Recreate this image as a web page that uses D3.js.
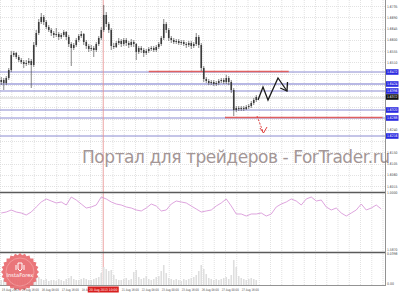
<!DOCTYPE html>
<html lang="en">
  <head>
    <meta charset="utf-8" />
    <title>Chart</title>
    <script src="https://d3js.org/d3.v7.min.js"></script>
    <style>
      body { margin: 0; background: #fff; }
      svg { display: block; }
      text { font-family: "DejaVu Sans", sans-serif; }
    </style>
  </head>
  <body>
    <div id="chart"></div>
    <script>
      // bars: [high, low, close]; open = previous close
      const firstOpen = 1.6432;
      const bars = [
        [1.6452,1.6420,1.6440],[1.6448,1.6400,1.6428],[1.6456,1.6420,1.6448],[1.6488,1.6440,1.6480],
        [1.6556,1.6472,1.6540],[1.6556,1.6532,1.6548],[1.6552,1.6524,1.6532],[1.6540,1.6512,1.6520],
        [1.6528,1.6504,1.6512],[1.6520,1.6488,1.6504],[1.6520,1.6496,1.6508],[1.6528,1.6500,1.6516],
        [1.6524,1.6408,1.6500],[1.6592,1.6492,1.6580],[1.6640,1.6572,1.6628],[1.6684,1.6620,1.6672],
        [1.6708,1.6664,1.6692],[1.6700,1.6660,1.6672],[1.6680,1.6644,1.6652],[1.6660,1.6632,1.6640],
        [1.6648,1.6616,1.6628],[1.6636,1.6608,1.6620],[1.6648,1.6612,1.6624],[1.6632,1.6600,1.6612],
        [1.6628,1.6604,1.6620],[1.6640,1.6612,1.6632],[1.6636,1.6600,1.6612],[1.6620,1.6572,1.6584],
        [1.6592,1.6496,1.6568],[1.6588,1.6560,1.6580],[1.6608,1.6572,1.6600],[1.6624,1.6592,1.6616],
        [1.6636,1.6608,1.6624],[1.6628,1.6580,1.6592],[1.6600,1.6564,1.6576],[1.6584,1.6552,1.6564],
        [1.6580,1.6556,1.6568],[1.6576,1.6532,1.6560],[1.6592,1.6552,1.6584],[1.6616,1.6576,1.6608],
        [1.6652,1.6600,1.6640],[1.6740,1.6632,1.6700],[1.6712,1.6652,1.6664],[1.6672,1.6628,1.6640],
        [1.6648,1.6560,1.6576],[1.6588,1.6564,1.6572],[1.6596,1.6568,1.6588],[1.6608,1.6580,1.6596],
        [1.6604,1.6572,1.6584],[1.6608,1.6576,1.6600],[1.6608,1.6576,1.6588],[1.6596,1.6568,1.6580],
        [1.6604,1.6572,1.6592],[1.6600,1.6572,1.6584],[1.6588,1.6520,1.6552],[1.6576,1.6544,1.6568],
        [1.6576,1.6548,1.6560],[1.6568,1.6532,1.6548],[1.6564,1.6540,1.6556],[1.6572,1.6548,1.6564],
        [1.6576,1.6556,1.6568],[1.6576,1.6552,1.6560],[1.6580,1.6552,1.6572],[1.6592,1.6564,1.6584],
        [1.6616,1.6576,1.6608],[1.6684,1.6600,1.6664],[1.6672,1.6628,1.6640],[1.6648,1.6596,1.6608],
        [1.6616,1.6588,1.6600],[1.6608,1.6584,1.6592],[1.6604,1.6584,1.6596],[1.6604,1.6580,1.6588],
        [1.6600,1.6580,1.6592],[1.6600,1.6576,1.6584],[1.6592,1.6568,1.6580],[1.6596,1.6572,1.6588],
        [1.6596,1.6564,1.6576],[1.6592,1.6568,1.6584],[1.6628,1.6576,1.6612],[1.6620,1.6568,1.6580],
        [1.6588,1.6476,1.6488],[1.6496,1.6432,1.6444],[1.6452,1.6428,1.6436],[1.6444,1.6420,1.6428],
        [1.6440,1.6420,1.6432],[1.6440,1.6416,1.6424],[1.6436,1.6416,1.6428],[1.6444,1.6420,1.6436],
        [1.6448,1.6428,1.6440],[1.6448,1.6424,1.6432],[1.6460,1.6424,1.6448],[1.6456,1.6420,1.6432],
        [1.6440,1.6388,1.6400],[1.6408,1.6296,1.6320],[1.6336,1.6312,1.6328],[1.6336,1.6316,1.6324],
        [1.6336,1.6316,1.6328],[1.6336,1.6316,1.6324],[1.6340,1.6320,1.6332],[1.6344,1.6324,1.6336],
        [1.6356,1.6328,1.6348],[1.6368,1.6340,1.6360],[1.6380,1.6352,1.6372]
      ];

      const volumes = [
        625,750,500,875,1125,750,625,500,625,750,625,500,1000,
        1250,1125,1000,750,625,750,500,625,
        625,500,750,625,500,750,875,1125,750,625,625,750,875,750,625,625,750,875,1000,
        1500,2250,2000,1750,1875,1250,
        750,625,625,750,875,625,750,
        1625,1875,
        1000,750,875,1125,750,625,750,1000,1125,
        1750,2500,1500,
        875,750,625,750,625,500,750,625,750,875,1000,1250,
        1750,2500,2000,1375,
        875,750,625,750,625,750,875,1000,750,1250,
        3125,2250,
        1125,875,750,625,750,875,750,625
      ];

      // oscillator, one value every 2 bars
      const osc = [
        65.5,67.2,70.7,67.2,65.5,62.1,67.2,75.9,84.5,89.7,86.2,82.8,84.5,79.3,93.1,87.9,
        81.0,74.1,75.9,79.3,93.1,89.7,84.5,81.0,79.3,75.9,74.1,70.7,69.0,74.1,81.0,77.6,
        69.0,70.7,81.0,86.2,84.5,82.8,77.6,72.4,67.2,69.0,70.7,77.6,82.8,89.7,77.6,63.8,
        63.8,60.3,63.8,63.8,65.5,60.3,63.8,75.9,81.0,84.5,89.7,86.2,79.3,89.7,93.1,86.2,
        87.9,75.9,70.7,74.1,65.5,60.3,65.5,70.7,81.0,70.7,74.1,79.3,72.4
      ];

      const priceTicks = [1.6735,1.6690,1.6645,1.6600,1.6555,1.6510,1.6465,1.6420,1.6375,
        1.6330,1.6285,1.6240,1.6195,1.6150,1.6105,1.6060,1.6015];
      const blueLevels = [1.6472, 1.6424, 1.6396, 1.6320, 1.6288, 1.6216];
      const bidPrice = 1.6372;
      // red levels: [price, fromBar, toBar]
      const redLevels = [[1.6472, 59, 115], [1.6288, 89.5, 152.5]];
      const zigzag = [[102.7,1.6360],[104.7,1.6412],[106.7,1.6360],[110.7,1.6448],[114.3,1.6396]];
      const zigHead = [[111.6,1.6408],[114.3,1.6396],[114.5,1.6432]];
      const downArrow = [[102.3,1.6296],[104.9,1.6228]];
      const downHead = [[103.5,1.6248],[104.9,1.6228],[106.3,1.6252]];
      const crossBar = 40.8;

      // one label every 8 bars; the one under the crosshair tag is hidden
      const timeLabels = ["15 Aug 2013","15 Aug 16:00","16 Aug 08:00","17 Aug 16:00","18 Aug 08:00",
        null,"21 Aug 16:00","22 Aug 08:00","23 Aug 00:00","23 Aug 16:00","26 Aug 08:00",
        "27 Aug 00:00","27 Aug 16:00"];
      const crossLabel = "20 Aug 2013 10:00";
      const oscTicks = [["1.0000", 100], ["1.5870", 3]];

      const W = 399, H = 293, plotR = 385;
      const svg = d3.select("#chart").append("svg").attr("width", W).attr("height", H);
      svg.append("rect").attr("width", W).attr("height", H).attr("fill", "#fff");

      const x = d3.scaleLinear().domain([0, 154]).range([1.25, 1.25 + 154 * 2.5]);
      const y = d3.scaleLinear().domain([1.6760, 1.5992]).range([0, 192]);
      const yo = d3.scaleLinear().domain([0, 100]).range([251, 193]);
      const yv = d3.scaleLinear().domain([0, 4000]).range([285, 253]);

      // grid
      const grid = svg.append("g").attr("stroke", "#d6d6d6").attr("stroke-dasharray", "1,1").attr("stroke-width", 0.7);
      grid.selectAll(".gv").data(d3.range(0, 35)).join("line")
        .attr("x1", d => 0.5 + d * 11.25).attr("x2", d => 0.5 + d * 11.25)
        .attr("y1", 0).attr("y2", 285);
      grid.selectAll(".gh").data(priceTicks).join("line")
        .attr("x1", 0).attr("x2", plotR).attr("y1", d => Math.round(y(d)) + 0.5).attr("y2", d => Math.round(y(d)) + 0.5);

      // watermark
      svg.append("text").attr("x", 82).attr("y", 163).attr("font-size", 17)
        .attr("textLength", 308).attr("lengthAdjust", "spacing")
        .attr("fill", "#a39696").text("Портал для трейдеров - ForTrader.ru");

      // levels
      svg.append("line").attr("x1", 0).attr("x2", plotR).attr("y1", y(bidPrice) + 1).attr("y2", y(bidPrice) + 1)
        .attr("stroke", "#cfcfcf").attr("stroke-width", 1);
      svg.selectAll(".lvl").data(blueLevels).join("line")
        .attr("x1", 0).attr("x2", plotR).attr("y1", d => y(d)).attr("y2", d => y(d))
        .attr("stroke", (d, i) => i === 1 ? "#b8b8e4" : "#8a8ad0").attr("stroke-width", (d, i) => i === 1 ? 2 : 1);
      svg.selectAll(".red").data(redLevels).join("line")
        .attr("x1", d => x(d[1])).attr("x2", d => x(d[2])).attr("y1", d => y(d[0]) - 0.5).attr("y2", d => y(d[0]) - 0.5)
        .attr("stroke", "#e06060").attr("stroke-width", 1.3);

      // crosshair
      svg.append("line").attr("x1", x(crossBar)).attr("x2", x(crossBar)).attr("y1", 0).attr("y2", 285)
        .attr("stroke", "#e89090").attr("stroke-width", 0.8);

      // candles
      const cg = svg.append("g");
      bars.forEach((b, i) => {
        const o = i === 0 ? firstOpen : bars[i - 1][2];
        const cx = x(i);
        cg.append("line").attr("x1", cx).attr("x2", cx).attr("y1", y(b[0])).attr("y2", y(b[1]))
          .attr("stroke", "#505050").attr("stroke-width", 0.7);
        const top = y(Math.max(o, b[2])), bot = y(Math.min(o, b[2]));
        cg.append("rect").attr("x", cx - 0.8).attr("width", 1.6).attr("y", top).attr("height", Math.max(0.8, bot - top))
          .attr("fill", "#3c3c3c");
      });

      // hand drawn arrows
      const ln = d3.line().x(d => x(d[0])).y(d => y(d[1]));
      svg.append("path").attr("d", ln(zigzag)).attr("fill", "none").attr("stroke", "#1a1a1a").attr("stroke-width", 1.3);
      svg.append("path").attr("d", ln(zigHead)).attr("fill", "none").attr("stroke", "#1a1a1a").attr("stroke-width", 1.3);
      svg.append("path").attr("d", ln(downArrow)).attr("fill", "none").attr("stroke", "#e04040")
        .attr("stroke-width", 1).attr("stroke-dasharray", "2,1.5");
      svg.append("path").attr("d", ln(downHead)).attr("fill", "none").attr("stroke", "#e04040").attr("stroke-width", 1);

      // panel separators
      svg.append("line").attr("x1", 0).attr("x2", plotR).attr("y1", 192.5).attr("y2", 192.5).attr("stroke", "#5a5a5a").attr("stroke-width", 1.3);
      svg.append("line").attr("x1", 0).attr("x2", plotR).attr("y1", 252.5).attr("y2", 252.5).attr("stroke", "#5a5a5a").attr("stroke-width", 1.3);
      svg.append("line").attr("x1", 0).attr("x2", plotR).attr("y1", 285.5).attr("y2", 285.5).attr("stroke", "#777").attr("stroke-width", 0.8);
      svg.append("line").attr("x1", plotR + 0.5).attr("x2", plotR + 0.5).attr("y1", 0).attr("y2", 286).attr("stroke", "#777").attr("stroke-width", 0.8);

      // oscillator
      const lo = d3.line().x((d, i) => x(i * 2)).y(d => yo(d));
      svg.append("path").attr("d", lo(osc)).attr("fill", "none").attr("stroke", "#d99ad9").attr("stroke-width", 0.9);

      // volumes
      svg.append("g").selectAll("rect").data(volumes).join("rect")
        .attr("x", (d, i) => x(i) - 0.8).attr("width", 1.6)
        .attr("y", d => yv(d)).attr("height", d => yv(0) - yv(d)).attr("fill", "#dedede");

      // logo
      const logo = svg.append("g").attr("transform", "translate(20,272)");
      const teeth = d3.range(48).map(k => {
        const a = k / 48 * 2 * Math.PI, r = k % 2 ? 17 : 19;
        return [Math.cos(a) * r, Math.sin(a) * r];
      });
      logo.append("path").attr("d", d3.line()(teeth) + "Z").attr("fill", "#e8676b").attr("opacity", 0.9);
      logo.append("circle").attr("r", 14).attr("fill", "none").attr("stroke", "#f7b0b0").attr("stroke-width", 0.6);
      logo.append("path").attr("d", "M-2,-9 L2,-9 L2,-3 L0,-1 L-2,-3 Z M-4,-7 L-4,-2 M4,-7 L4,-2")
        .attr("fill", "none").attr("stroke", "#fff").attr("stroke-width", 1);
      logo.append("text").attr("y", 5).attr("text-anchor", "middle").attr("font-size", 5.2).attr("fill", "#fff").text("InstaForex");

      // right axis (labels covered by a price tag are hidden)
      const lab = 10.5;
      const tagged = blueLevels.concat([bidPrice]);
      const shown = priceTicks.filter(p => tagged.every(t => Math.abs(y(t) - y(p)) > 5.6));
      const ax = svg.append("g").attr("font-size", 3.6).attr("fill", "#444");
      ax.selectAll("text").data(shown).join("text")
        .attr("x", plotR + 2).attr("y", d => y(d) + 1.3).attr("textLength", lab).attr("lengthAdjust", "spacingAndGlyphs")
        .text(d => d.toFixed(4));
      ax.selectAll(".ot").data(oscTicks).join("text")
        .attr("x", plotR + 2).attr("y", d => yo(d[1]) + 1.3).attr("textLength", lab).attr("lengthAdjust", "spacingAndGlyphs")
        .text(d => d[0]);
      ax.append("text").attr("x", plotR + 2).attr("y", yv(3950) + 1.3).attr("textLength", lab).attr("lengthAdjust", "spacingAndGlyphs").text("0.0398");
      ax.append("text").attr("x", plotR + 2).attr("y", yv(0)).attr("textLength", 7).attr("lengthAdjust", "spacingAndGlyphs").text("0.00");

      const tag = (p, fill) => {
        const g = svg.append("g");
        g.append("rect").attr("x", plotR + 1).attr("y", y(p) - 2.8).attr("width", 12.5).attr("height", 5.6).attr("fill", fill);
        g.append("text").attr("x", plotR + 2).attr("y", y(p) + 1.3).attr("font-size", 3.6).attr("fill", "#fff")
          .attr("textLength", lab).attr("lengthAdjust", "spacingAndGlyphs").text(p.toFixed(4));
      };
      blueLevels.forEach(p => tag(p, "#2a2ae0"));
      tag(bidPrice, "#111");

      // time axis
      const tx = svg.append("g").attr("font-size", 3.4).attr("fill", "#444");
      tx.selectAll("text").data(timeLabels.map((t, i) => [t, i]).filter(d => d[0])).join("text")
        .attr("x", d => x(d[1] * 8) + 0.5).attr("y", 290.5).attr("textLength", 17).attr("lengthAdjust", "spacingAndGlyphs")
        .text(d => d[0]);
      tx.append("rect").attr("x", x(crossBar) - 15.5).attr("y", 286.5).attr("width", 31).attr("height", 6).attr("fill", "#d81e1e");
      tx.append("text").attr("x", x(crossBar) - 14).attr("y", 290.8).attr("fill", "#fff")
        .attr("textLength", 28).attr("lengthAdjust", "spacingAndGlyphs").text(crossLabel);
    </script>
  </body>
</html>
